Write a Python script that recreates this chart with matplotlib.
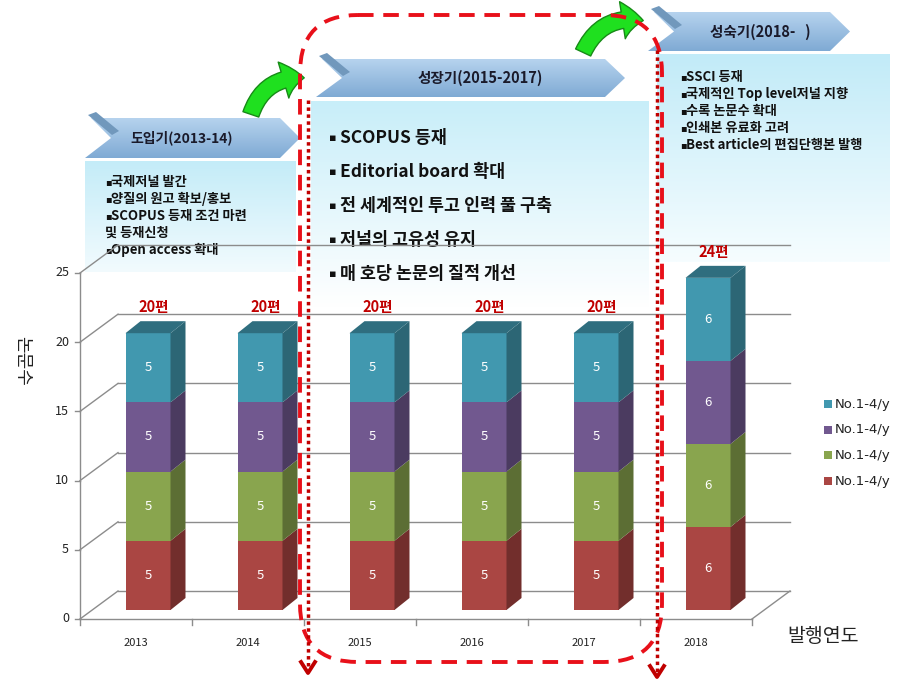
import numpy as np
import matplotlib
matplotlib.use('Agg')
import matplotlib.pyplot as plt
from matplotlib.patches import Polygon, Rectangle, FancyBboxPatch, FancyArrowPatch
from matplotlib.colors import to_rgb

plt.rcParams['font.family'] = ['Noto Sans CJK KR', 'DejaVu Sans']

# ---- data ----
years = ['2013', '2014', '2015', '2016', '2017', '2018']
no_red = [5, 5, 5, 5, 5, 6]
no_green = [5, 5, 5, 5, 5, 6]
no_purple = [5, 5, 5, 5, 5, 6]
no_teal = [5, 5, 5, 5, 5, 6]
series_names = ['No.1-4/y', 'No.1-4/y', 'No.1-4/y', 'No.1-4/y']
yticks = [0, 5, 10, 15, 20, 25]

stage_titles = ['도입기(2013-14)', '성장기(2015-2017)', '성숙기(2018-   )']
stage1_items = ['국제저널 발간', '양질의 원고 확보/홍보', 'SCOPUS 등재 조건 마련',
                '및 등재신청', 'Open access 확대']
stage1_bullet = [True, True, True, False, True]
stage2_items = ['SCOPUS 등재', 'Editorial board 확대', '전 세계적인 투고 인력 풀 구축',
                '저널의 고유성 유지', '매 호당 논문의 질적 개선']
stage3_items = ['SSCI 등재', '국제적인 Top level저널 지향', '수록 논문수 확대',
                '인쇄본 유료화 고려', 'Best article의 편집단행본 발행']

front_c = ['#AA4643', '#89A54E', '#71588F', '#4198AF']
side_c = ['#722E2C', '#5C6E34', '#4B3B60', '#2C6675']
top_c = '#2F6E7F'
grid_c = '#8C8C8C'

W, H = 914, 694
fig = plt.figure(figsize=(W / 100, H / 100), dpi=100)


def fpos(x0, y0, x1, y1):
    return [x0 / W, 1 - y1 / H, (x1 - x0) / W, (y1 - y0) / H]


bg = fig.add_axes([0, 0, 1, 1], label='bg')
bg.set_zorder(0)
bg.axis('off')
ax = fig.add_axes(fpos(80, 273, 752, 619), label='chart')
ax.set_zorder(1)
ax.patch.set_visible(False)
ax.axis('off')
ax.set_xlim(0, 6)
ax.set_ylim(0, 25)
top = fig.add_axes([0, 0, 1, 1], label='top')
top.set_zorder(2)
top.patch.set_visible(False)
top.axis('off')


def grad(axx, x0, y0, x1, y1, c0, c1, clip=None, z=1):
    t = np.linspace(0, 1, 120)[:, None, None]
    col = (1 - t) * np.array(to_rgb(c0)) + t * np.array(to_rgb(c1))
    im = axx.imshow(col, extent=[x0, x1, y1, y0], aspect='auto',
                    interpolation='bilinear', zorder=z)
    if clip is not None:
        im.set_clip_path(clip)
    return im


# ---- stage boxes (under chart) ----
grad(bg, 85, 161, 296, 272, '#C4ECF8', '#F2FBFE')
grad(bg, 311, 101, 649, 308, '#C8EEF9', '#FFFFFF')
grad(bg, 657, 54, 890, 262, '#C2EBF8', '#F6FDFF')


def banner(x0, y0, x1, y1, text, tx, fs):
    ym = (y0 + y1) / 2
    body = Polygon([(x0 + 6, y0), (x1 - 20, y0), (x1, ym), (x1 - 20, y1),
                    (x0, y1), (x0 + 26, ym)], closed=True, fc='none', ec='none')
    bg.add_patch(body)
    grad(bg, x0, y0, x1, y1, '#B6D3EE', '#7FAAD4', clip=body, z=2)
    bg.add_patch(Polygon([(x0 + 3, y0 - 3), (x0 + 11, y0 - 6), (x0 + 34, y0 + 13),
                          (x0 + 27, y0 + 17)], closed=True, fc='#7198BC', ec='none', zorder=3))
    bg.text(tx, ym, text, ha='center', va='center', fontsize=fs,
            fontweight='bold', color='#1A1A2A', zorder=4)


banner(85, 118, 300, 158, stage_titles[0], 182, 10)
banner(316, 59, 625, 97, stage_titles[1], 480, 10.5)
banner(648, 12, 850, 51, stage_titles[2], 760, 10.5)


def small_item(x, y, s, bullet=True):
    if bullet:
        bg.text(x, y, '▪', ha='left', va='center', fontsize=7, color='#111111',
                family='DejaVu Sans', zorder=4)
        x += 6
    bg.text(x, y, s, ha='left', va='center', fontsize=9.5,
            fontweight='bold', color='#111111', zorder=4)


for k, s in enumerate(stage1_items):
    small_item(105, 182 + 17 * k, s, stage1_bullet[k])
for k, s in enumerate(stage2_items):
    yy = 138 + 34 * k
    bg.text(329, yy, '▪', ha='left', va='center', fontsize=8, color='#111111',
            family='DejaVu Sans', zorder=4)
    bg.text(340, yy, s, ha='left', va='center', fontsize=12.5,
            fontweight='bold', color='#111111', zorder=4)
for k, s in enumerate(stage3_items):
    small_item(680, 77 + 17 * k, s)

bg.set_xlim(0, W)
bg.set_ylim(H, 0)

# ---- 3D stacked chart ----
sx = ax.bbox.width / 6
sy = ax.bbox.height / 25


def dx(p):
    return p / sx


def dy(p):
    return p / sy


wall_x, wall_y = dx(38), dy(28)
for v in yticks:
    ax.plot([wall_x, 6 + wall_x], [v + wall_y, v + wall_y], color=grid_c, lw=1, clip_on=False)
    ax.plot([0, wall_x], [v, v + wall_y], color=grid_c, lw=1, clip_on=False)
    ax.plot([-dx(5), 0], [v, v], color=grid_c, lw=1, clip_on=False)
    ax.text(-dx(11), v, str(v), ha='right', va='center', fontsize=9, color='#222222')
ax.plot([6, 6 + wall_x], [0, wall_y], color=grid_c, lw=1, clip_on=False)
ax.plot([0, 6], [0, 0], color=grid_c, lw=1, clip_on=False)
ax.plot([0, 0], [0, 25], color=grid_c, lw=1, clip_on=False)
for i in range(7):
    ax.plot([i, i], [0, -dy(6)], color=grid_c, lw=1, clip_on=False)
for i, yr in enumerate(years):
    ax.text(i + 0.5, -dy(24), yr, ha='center', va='center', fontsize=8, color='#222222')

ax.text(-dx(58), dy(619 - 361), '논문수', rotation=270, ha='center', va='center',
        fontsize=13, color='#222222')
ax.text(6 + dx(35), -dy(18), '발행연도', ha='left', va='center', fontsize=14, color='#222222')

series = [no_red, no_green, no_purple, no_teal]
bw = 45 / sx
ox, oy = dx(12), dy(9)
ddx, ddy = dx(15), dy(12)
for i in range(len(years)):
    base = 0
    x0 = i + 0.5 - bw / 2 + ox
    for j, ser in enumerate(series):
        v = ser[i]
        y0 = base + oy
        ax.add_patch(Rectangle((x0, y0), bw, v, fc=front_c[j], ec='none', clip_on=False, zorder=3))
        ax.add_patch(Polygon([(x0 + bw, y0), (x0 + bw + ddx, y0 + ddy),
                              (x0 + bw + ddx, y0 + v + ddy), (x0 + bw, y0 + v)],
                             closed=True, fc=side_c[j], ec='none', clip_on=False, zorder=3))
        ax.text(x0 + bw / 2, y0 + v / 2, str(v), ha='center', va='center',
                fontsize=9.5, color='white', zorder=4)
        base += v
    yt = base + oy
    ax.add_patch(Polygon([(x0, yt), (x0 + ddx, yt + ddy), (x0 + bw + ddx, yt + ddy), (x0 + bw, yt)],
                         closed=True, fc=top_c, ec='none', clip_on=False, zorder=3))
    ax.text(x0 + bw / 2 + dx(6), yt + dy(26), '%d편' % base, ha='center', va='center',
            fontsize=10.5, fontweight='bold', color='#C00000', zorder=4)

# legend (top entry = last series), drawn by hand to sit where the original has it
for k, j in enumerate([3, 2, 1, 0]):
    yy = 404 + 25.7 * k
    top.add_patch(Rectangle((824, yy - 4), 8, 8, fc=front_c[j], ec='none'))
    top.text(835, yy, series_names[j], ha='left', va='center', fontsize=9.5, color='#222222',
             family='DejaVu Sans')

# ---- overlays: green arrows, red dashed frame, dotted arrows ----
for (p0, p1) in [((250, 117), (307, 78)), ((582, 55), (646, 21))]:
    top.add_patch(FancyArrowPatch(p0, p1, connectionstyle='arc3,rad=-0.4',
                                  arrowstyle='simple,head_length=15,head_width=27,tail_width=12',
                                  mutation_scale=1, fc='#1FE01F', ec='#178A17', lw=1, zorder=2))

top.add_patch(FancyBboxPatch((300, 15), 362, 647, boxstyle='round,pad=0,rounding_size=58',
                             fill=False, ec='#E8101A', lw=2.8, ls=(0, (4, 2.5)), zorder=3))

for xx, ys, ye in [(308, 100, 673), (657, 50, 677)]:
    top.plot([xx, xx], [ys, ye - 2], color='#C00000', lw=2.5, ls=(0, (1, 1)), zorder=4)
    top.plot([xx - 7, xx, xx + 7], [ye - 11, ye, ye - 11], color='#C00000', lw=2.8, zorder=4)

top.set_xlim(0, W)
top.set_ylim(H, 0)

plt.savefig('out.png', dpi=100)
